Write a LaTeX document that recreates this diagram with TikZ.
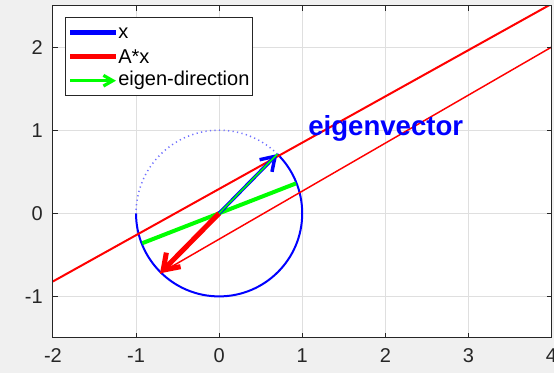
\documentclass[tikz,border=0pt]{standalone}
\usepackage{fontspec}
\setmainfont{Liberation Sans}
\usetikzlibrary{arrows.meta}
\definecolor{axgray}{HTML}{262626}
\definecolor{gridgray}{HTML}{DFDFDF}
\definecolor{figbg}{HTML}{F0F0F0}
\definecolor{dotblue}{HTML}{7070FF}
\begin{document}
\begin{tikzpicture}[x=62.325pt, y=62.325pt,
    gridline/.style={gridgray, line width=0.75pt},
    tickmark/.style={axgray, line width=0.75pt},
    ticklabel/.style={text=axgray, inner sep=0pt, font=\fontsize{15}{18}\selectfont},
    legendtext/.style={anchor=west, inner sep=0pt, font=\fontsize{15}{18}\selectfont},
    xvec/.style={blue, line width=2.6pt, -{Straight Barb[length=10pt, width=13pt]}},
    axvec/.style={red, line width=3.8pt, -{Straight Barb[length=11pt, width=15pt]}}]
    % 图幅与坐标区
    \path[use as bounding box, fill=figbg] (-2.637,-1.922) rectangle (4.030,2.567);
    \fill[white] (-2,-1.5) rectangle (4,2.5);

    % 网格
    \foreach \i in {-1,...,3} \draw[gridline] (\i,-1.5) -- (\i,2.5);
    \foreach \j in {-1,...,2} \draw[gridline] (-2,\j) -- (4,\j);

    % 定义各点坐标
    \coordinate (O) at (0,0);
    \coordinate (X) at (45.5:1);
    \coordinate (AX) at (-0.711,-0.722);
    \coordinate (E1) at (-0.925,-0.36);
    \coordinate (E2) at (0.925,0.36);
    \coordinate (P1) at (-2,-0.82);
    \coordinate (P2) at (4,2.52);
    \coordinate (Q2) at (4,2.0);

    \begin{scope}
        \clip (-2,-1.5) rectangle (4,2.5);
        % === 单位圆：已扫过部分实线，其余点线 ===
        \draw[blue, line width=1.5pt] ([shift=(180:1)]O) arc [start angle=180, end angle=405.5, radius=1];
        \draw[dotblue, line width=1.1pt, dash pattern=on 0.9pt off 2.5pt] ([shift=(45.5:1)]O) arc [start angle=45.5, end angle=180, radius=1];

        % 两条红色细线
        \draw[red, line width=1.5pt] (P1) -- (P2);
        \draw[red, line width=1.1pt] (AX) -- (Q2);

        % 特征方向
        \draw[green, line width=3pt] (E1) -- (E2);

        % === 向量 A*x 与 x ===
        \draw[axvec] (O) -- (AX);
        \draw[xvec] (O) -- (X);
        \draw[green, line width=1.2pt] (O) -- (X);
    \end{scope}

    % 坐标框与刻度
    \draw[axgray, line width=0.75pt] (-2,-1.5) rectangle (4,2.5);
    \foreach \i in {-1,...,3} {
        \draw[tickmark] (\i,-1.5) -- (\i,-1.44);
        \draw[tickmark] (\i,2.5) -- (\i,2.44);
    }
    \foreach \j in {-1,...,2} {
        \draw[tickmark] (-2,\j) -- (-1.94,\j);
        \draw[tickmark] (4,\j) -- (3.94,\j);
    }

    % 刻度标签
    \foreach \i in {-2,...,4} \node[ticklabel, anchor=base] (xt\i) at (\i,-1.80) {\i};
    \foreach \j in {-1,...,2} \node[ticklabel, anchor=east] (yt\j) at (-2.12,\j) {\j};

    % 标注
    \node[blue, anchor=base west, inner sep=0pt, font=\fontsize{20.7}{24}\selectfont\bfseries] (evlabel) at (1.07,0.94) {eigenvector};

    % === 图例 ===
    \draw[axgray, line width=0.75pt, fill=white] (-1.854,1.42) rectangle (0.396,2.359);
    \coordinate (lx1) at (-1.793,2.173);  \coordinate (lx2) at (-1.241,2.173);
    \coordinate (la1) at (-1.793,1.884);  \coordinate (la2) at (-1.241,1.884);
    \coordinate (le1) at (-1.793,1.596);  \coordinate (le2) at (-1.241,1.596);
    \draw[blue, line width=3.6pt] (lx1) -- (lx2);
    \draw[red, line width=3.6pt] (la1) -- (la2);
    \draw[green, line width=2.4pt, -{Straight Barb[length=7pt, width=8pt]}] (le1) -- (le2);
    \node[legendtext] (lgx) at (-1.217,2.173) {x};
    \node[legendtext] (lgax) at (-1.217,1.884) {A*x};
    \node[legendtext] (lgeig) at (-1.217,1.596) {eigen-direction};
\end{tikzpicture}
\end{document}
